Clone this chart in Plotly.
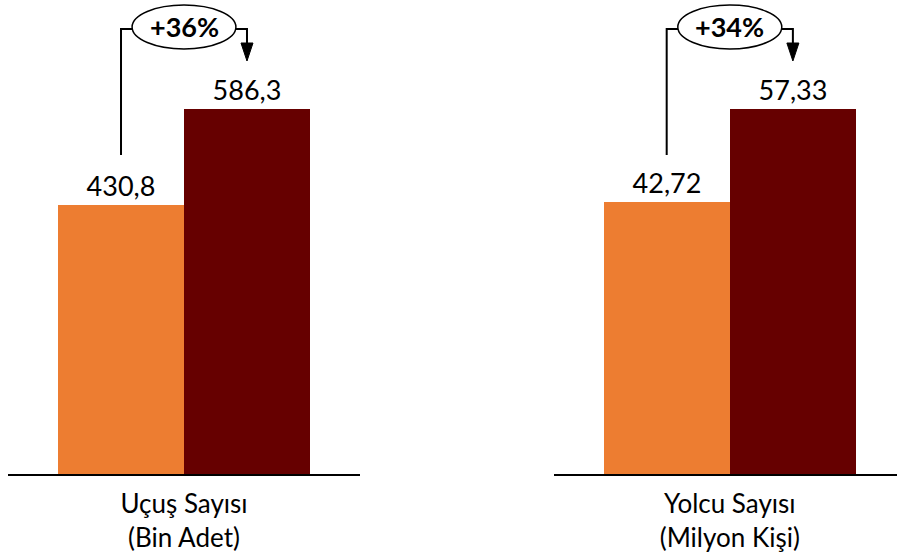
import plotly.graph_objects as go

# ---- data ----
categories = ["Uçuş Sayısı<br>(Bin Adet)", "Yolcu Sayısı<br>(Milyon Kişi)"]
flights = [430.8, 586.3]
passengers = [42.72, 57.33]
bar_colors = ["#ED7D31", "#660000"]

W, H = 897, 557
PLOT_H = 474  # plot area height in px (top margin 0)
FONT = "Lato, 'Open Sans', sans-serif"

fig = go.Figure()

panels = [
    dict(vals=flights, fmt="%{y:.1f}", xa="x", ya="y", dom=[8 / W, 360 / W],
         xr=[-0.897, 1.897], cat=categories[0]),
    dict(vals=passengers, fmt="%{y:.2f}", xa="x2", ya="y2", dom=[554 / W, 1.0],
         xr=[-0.893, 1.825], cat=categories[1]),
]

shapes = []
annotations = []

def paper_y(py):
    return 1 - py / PLOT_H

for i, p in enumerate(panels):
    vals = p["vals"]
    fig.add_trace(go.Bar(
        x=[0, 1], y=vals, width=1.0,
        marker=dict(color=bar_colors, line=dict(width=0)),
        texttemplate=p["fmt"], textposition="outside",
        textfont=dict(family=FONT, size=27, color="black"),
        cliponaxis=False, xaxis=p["xa"], yaxis=p["ya"], showlegend=False,
        hoverinfo="skip",
    ))
    # axis range so that the taller bar reaches ~366 px
    rng = max(vals) * PLOT_H / 365.5
    suffix = "" if i == 0 else "2"
    fig.update_layout(**{
        "xaxis" + suffix: dict(domain=p["dom"], range=p["xr"], showline=True,
                               linecolor="black", linewidth=1.5, showgrid=False,
                               zeroline=False, ticks="", tickvals=[0.5],
                               ticktext=[p["cat"]], ticklabelstandoff=6,
                               tickfont=dict(family=FONT, size=26, color="black"),
                               fixedrange=True),
        "yaxis" + suffix: dict(domain=[0, 1], range=[0, rng], visible=False,
                               fixedrange=True),
    })
    xref = p["xa"]
    pct = round((vals[1] / vals[0] - 1) * 100)
    y_line = paper_y(29)
    # left bracket
    shapes.append(dict(type="path", xref=xref, yref="paper",
                       path=f"M 0,{paper_y(155)} L 0,{y_line} L 0.09,{y_line}",
                       line=dict(color="black", width=2)))
    # right bracket
    shapes.append(dict(type="path", xref=xref, yref="paper",
                       path=f"M 0.91,{y_line} L 1,{y_line} L 1,{paper_y(44)}",
                       line=dict(color="black", width=2)))
    # arrowhead
    hw = 6 / 126
    shapes.append(dict(type="path", xref=xref, yref="paper",
                       path=f"M {1-hw},{paper_y(43)} L {1+hw},{paper_y(43)} L 1,{paper_y(61)} Z",
                       fillcolor="black", line=dict(color="black", width=1)))
    # ellipse
    shapes.append(dict(type="circle", xref=xref, yref="paper",
                       x0=0.5 - 0.412, x1=0.5 + 0.412,
                       y0=paper_y(49), y1=paper_y(5),
                       line=dict(color="black", width=1.5), fillcolor="white"))
    annotations.append(dict(xref=xref, yref="paper", x=0.5, y=paper_y(27),
                            text=f"<b>+{pct}%</b>", showarrow=False,
                            font=dict(family=FONT, size=27, color="black"),
                            yanchor="middle", xanchor="center"))

fig.update_layout(
    width=W, height=H,
    margin=dict(l=0, r=0, t=0, b=H - PLOT_H),
    plot_bgcolor="white", paper_bgcolor="white",
    separators=",.",
    shapes=shapes, annotations=annotations,
    bargap=0,
)

fig.write_html("out.html", config={"displayModeBar": False},
               post_script="document.body.style.margin='0';")
